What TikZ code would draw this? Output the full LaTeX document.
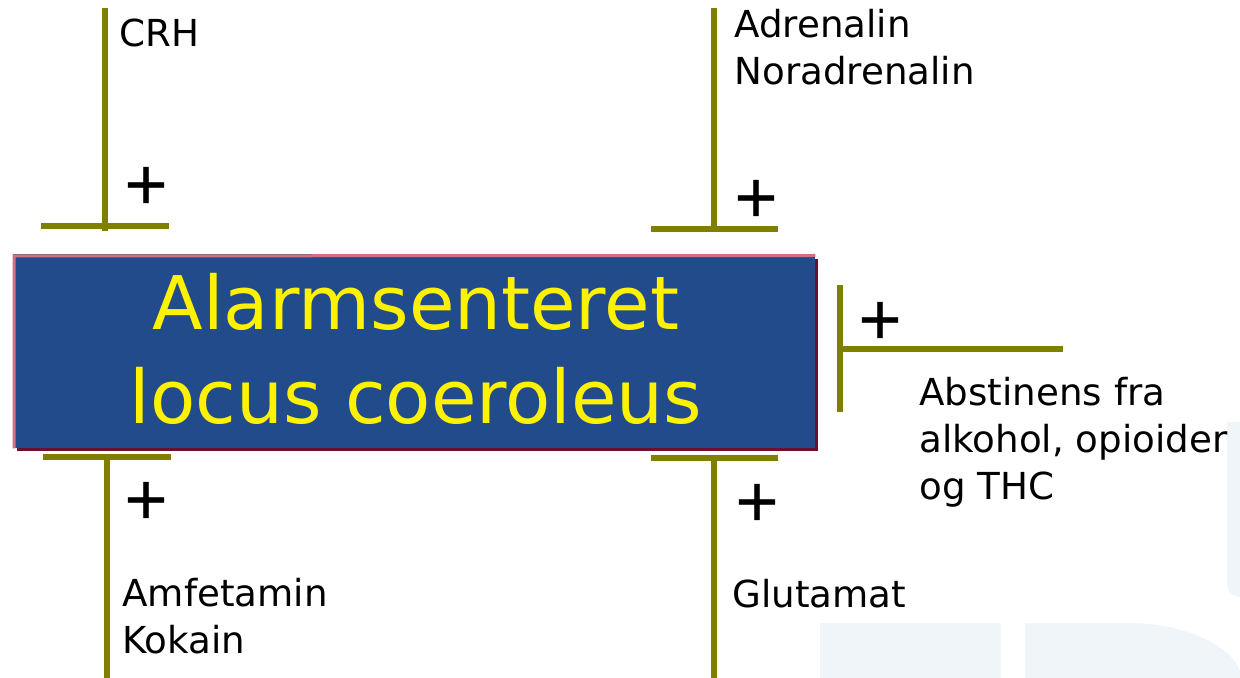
\documentclass[tikz,border=0pt]{standalone}
\usepackage{fontspec}
\setmainfont{DejaVu Sans}
\newfontfamily\plusfont[FakeBold=1.2]{DejaVu Sans}
\definecolor{olivel}{HTML}{808000}
\definecolor{boxblue}{HTML}{224B8C}
\definecolor{boxpink}{HTML}{D3707F}
\definecolor{boxshadow}{HTML}{6A1030}
\definecolor{wmark}{HTML}{F0F5FA}
\tikzset{
  inhib/.style={draw=olivel, line width=3pt},
  lbl/.style={inner sep=0pt, anchor=base west, align=left, font=\fontsize{18.6}{23.5}\selectfont, text=black},
  plussign/.style={inner sep=0pt, font=\plusfont\fontsize{28.5}{30}\selectfont, text=black},
  mainbox/.style={fill=boxblue, draw=none, inner sep=0pt, minimum width=401pt, minimum height=97pt},
  maintext/.style={inner sep=0pt, align=center, text=yellow, font=\fontsize{37}{47}\selectfont}
}
\begin{document}
\begin{tikzpicture}[x=0.5pt,y=-0.5pt]
\useasboundingbox (0,0) rectangle (1240,678);
% faint watermark shapes
\fill[wmark] (820,623) rectangle (1001,678);
\fill[wmark] (1025,678) -- (1025,623) -- (1130,623) .. controls (1190,623) and (1235,650) .. (1240,672) -- (1240,678) -- cycle;
\fill[wmark] (1240,422) -- (1227,422) -- (1227,582) .. controls (1227,592) and (1233,597) .. (1240,597) -- cycle;
% box with shadow
\fill[boxshadow] (17,259) rectangle (818,451);
\node[mainbox] (lc) at (414,351) {};
\draw[boxpink, line width=1.5pt] (lc.south west) ++(1.5,0) -- ++(0,-192.5) -- (lc.north east |- 0,255.5);
\node[maintext] (lct) at (416,349) {Alarmsenteret\\locus coeroleus};
% top left
\coordinate (a1) at (105,8); \coordinate (a2) at (105,231);
\coordinate (a3) at (41,226.5); \coordinate (a4) at (169,226.5);
\draw[inhib] (a1) -- (a2); \draw[inhib] (a3) -- (a4);
\node[lbl] (crh) at (119,47) {CRH};
\node[plussign] (p1) at (146,185) {+};
% top middle
\coordinate (b1) at (714,8); \coordinate (b2) at (714,232);
\coordinate (b3) at (651,229); \coordinate (b4) at (778,229);
\draw[inhib] (b1) -- (b2); \draw[inhib] (b3) -- (b4);
\node[lbl] (adr) at (734,85) {Adrenalin\\Noradrenalin};
\node[plussign] (p2) at (756,198) {+};
% right
\coordinate (c1) at (840,285); \coordinate (c2) at (840,412);
\coordinate (c3) at (840,349); \coordinate (c4) at (1063,349);
\draw[inhib] (c1) -- (c2); \draw[inhib] (c3) -- (c4);
\node[lbl] (abs) at (919,499) {Abstinens fra\\alkohol, opioider\\og THC};
\node[plussign] (p3) at (880,320) {+};
% bottom left
\coordinate (d1) at (43,457); \coordinate (d2) at (171,457);
\coordinate (d3) at (106.5,454); \coordinate (d4) at (106.5,678);
\draw[inhib] (d1) -- (d2); \draw[inhib] (d3) -- (d4);
\node[lbl] (amf) at (122,653) {Amfetamin\\Kokain};
\node[plussign] (p4) at (146,500) {+};
% bottom middle
\coordinate (e1) at (651,458); \coordinate (e2) at (778,458);
\coordinate (e3) at (714,455); \coordinate (e4) at (714,678);
\draw[inhib] (e1) -- (e2); \draw[inhib] (e3) -- (e4);
\node[lbl] (glu) at (732,607) {Glutamat};
\node[plussign] (p5) at (757,502) {+};
\end{tikzpicture}
\end{document}
